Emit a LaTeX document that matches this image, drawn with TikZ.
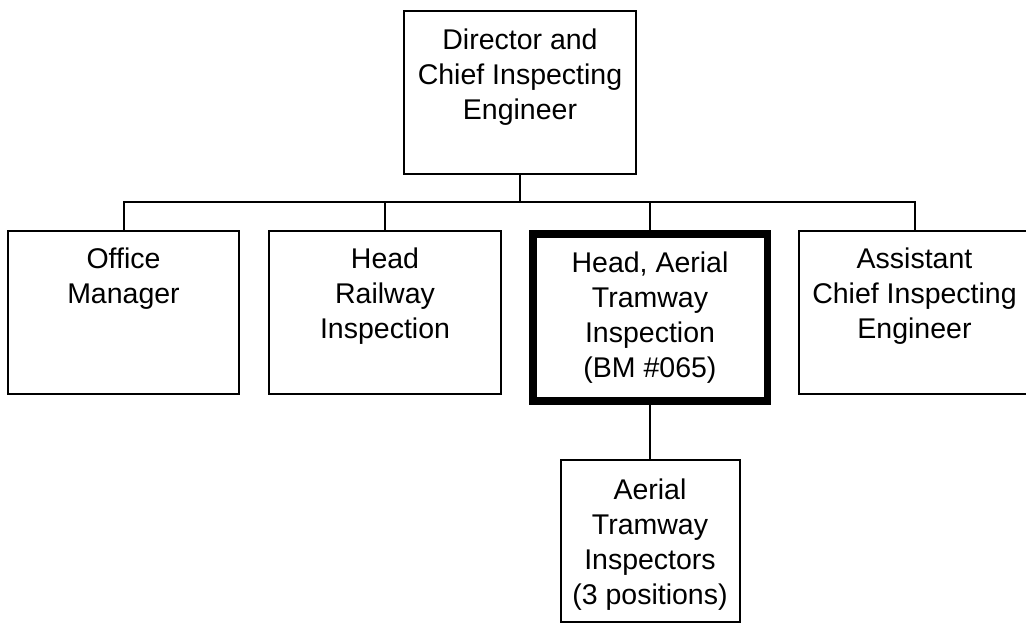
\documentclass[tikz,border=0pt]{standalone}
\usepackage{fontspec}
\setmainfont{Liberation Sans}
\begin{document}
\begin{tikzpicture}[x=1pt,y=-1pt,
  box/.style={draw=black,line width=2pt,rectangle,inner sep=0pt,fill=white},
  thickbox/.style={draw=black,line width=7.5pt,rectangle,inner sep=0pt,fill=white},
  txt/.style={anchor=north,align=center,inner sep=0pt,font=\fontsize{28.5pt}{35pt}\selectfont},
  conn/.style={draw=black,line width=2pt}]
\useasboundingbox (0,0) rectangle (1026,624);
\clip (0,0) rectangle (1026,624);
\fill[white] (0,0) rectangle (1026,624);
\node[box,minimum width=232pt,minimum height=163pt] (top) at (520,92.5) {};
\node[box,minimum width=231pt,minimum height=163pt] (b1) at (123.5,312.5) {};
\node[box,minimum width=232pt,minimum height=163pt] (b2) at (385,312.5) {};
\node[thickbox,minimum width=234.5pt,minimum height=167pt] (b3) at (650,317.5) {};
\node[box,minimum width=231pt,minimum height=163pt] (b4) at (914.5,312.5) {};
\node[box,minimum width=179pt,minimum height=162pt] (bot) at (650,541) {};
\coordinate (bar) at (520,202);
\draw[conn] (b1.north) |- (bar) -| (b4.north);
\draw[conn] (top.south) -- (bar);
\draw[conn] (b2.north) -- (b2.north |- bar);
\draw[conn] (b3.north) -- (b3.north |- bar);
\draw[conn] (b3.south) -- (bot.north);
\node[txt] (ttop) at ([yshift=-19pt]top.north) {Director and\\Chief Inspecting\\Engineer};
\node[txt] (t1) at ([yshift=-18pt]b1.north) {Office\\Manager};
\node[txt] (t2) at ([yshift=-18pt]b2.north) {Head\\Railway\\Inspection};
\node[txt] (t3) at ([yshift=-21.5pt]b3.north) {Head, Aerial\\Tramway\\Inspection\\(BM \#065)};
\node[txt] (t4) at ([yshift=-18pt]b4.north) {Assistant\\Chief Inspecting\\Engineer};
\node[txt] (tbot) at ([yshift=-20pt]bot.north) {Aerial\\Tramway\\Inspectors\\(3 positions)};
\end{tikzpicture}
\end{document}
